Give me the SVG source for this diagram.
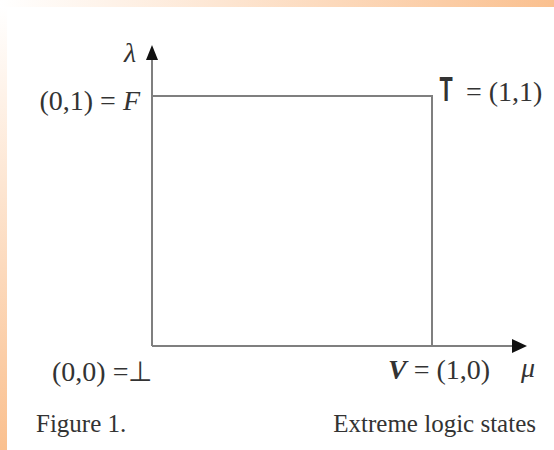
<svg xmlns="http://www.w3.org/2000/svg" width="554" height="450" viewBox="0 0 554 450">
  <defs>
    <linearGradient id="gTop" x1="0" y1="0" x2="1" y2="0">
      <stop offset="0" stop-color="#ffffff"/>
      <stop offset="1" stop-color="#fac08f"/>
    </linearGradient>
    <linearGradient id="gLeft" x1="0" y1="0" x2="0" y2="1">
      <stop offset="0" stop-color="#ffffff"/>
      <stop offset="1" stop-color="#fac08f"/>
    </linearGradient>
  </defs>
  <style>
    .ax { stroke: #7f7f7f; stroke-width: 2; fill: none; }
    .ah { fill: #111; }
    .t { font-family: "Liberation Serif", "Times New Roman", serif; font-size: 28px; fill: #333; }
    .it { font-style: italic; }
    .cap { font-family: "Liberation Serif", "Times New Roman", serif; font-size: 25px; fill: #333; }
  </style>
  <rect width="554" height="450" fill="#ffffff"/>
  <rect x="0" y="0" width="554" height="7" fill="url(#gTop)"/>
  <rect x="0" y="7" width="7" height="443" fill="url(#gLeft)"/>

  <g id="connectors">
    <line class="ax" x1="152" y1="346" x2="152" y2="58"/>
    <polygon class="ah" points="152,45 146,60 158,60"/>
    <line class="ax" x1="152" y1="346" x2="514" y2="346"/>
    <polygon class="ah" points="527,346 512,339 512,353"/>
    <polyline class="ax" points="152,96 432,96 432,346"/>
  </g>

  <g id="lambda"><text class="t it" x="130" y="62" text-anchor="middle">λ</text></g>
  <g id="F"><text class="t" x="140" y="110" text-anchor="end">(0,1) = <tspan class="it">F</tspan></text></g>
  <g id="T">
    <text x="446" y="101" text-anchor="middle" transform="translate(446 101) scale(0.6 1) translate(-446 -101)" font-family="Liberation Sans, Arial, sans-serif" font-weight="bold" font-size="36" fill="#333">T</text>
    <text class="t" x="466" y="101">= (1,1)</text>
  </g>
  <g id="bottom"><text class="t" x="52" y="381">(0,0) =⊥</text></g>
  <g id="V"><text class="t" x="388" y="379"><tspan class="it" font-weight="bold">V</tspan> = (1,0)</text></g>
  <g id="mu"><text class="t it" x="521" y="377">μ</text></g>
  <g id="caption">
    <text class="cap" x="36" y="432">Figure 1.</text>
    <text class="cap" x="536" y="432" text-anchor="end">Extreme logic states</text>
  </g>
</svg>
